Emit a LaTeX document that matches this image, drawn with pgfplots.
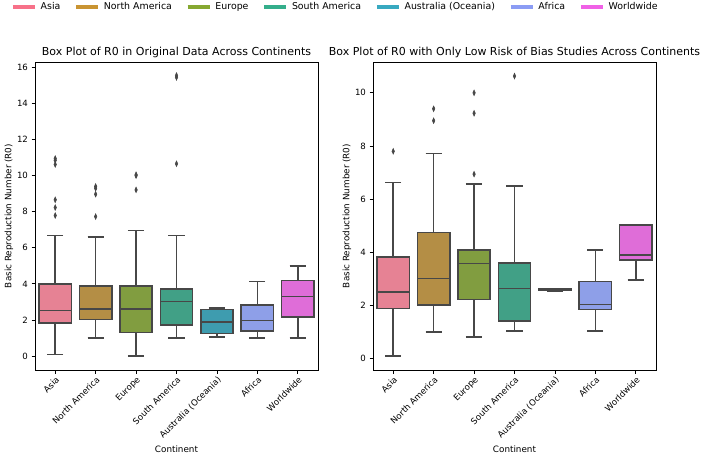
\documentclass[border=0pt]{standalone}
\usepackage{pgfplots}
\pgfplotsset{compat=1.18}
\usepgfplotslibrary{statistics}
\usepackage{fontspec}
\setmainfont{DejaVu Sans}
\definecolor{edgegray}{HTML}{474747}
\definecolor{l1}{HTML}{F77189}
\definecolor{l2}{HTML}{C99432}
\definecolor{l3}{HTML}{86A831}
\definecolor{l4}{HTML}{34AE8B}
\definecolor{l5}{HTML}{38A9C0}
\definecolor{l6}{HTML}{8B9CF4}
\definecolor{l7}{HTML}{F061E6}
\definecolor{f1}{HTML}{E68294}
\definecolor{f2}{HTML}{B48E45}
\definecolor{f3}{HTML}{819D40}
\definecolor{f4}{HTML}{41A086}
\definecolor{f5}{HTML}{3E9CAF}
\definecolor{f6}{HTML}{8E9FE8}
\definecolor{f7}{HTML}{DF6DD8}
\pgfplotsset{
  myaxis/.style={
    scale only axis, width=283pt, height=308pt,
    xmin=-0.5, xmax=6.5, xtick={0,1,2,3,4,5,6},
    xticklabels={Asia,North America,Europe,South America,{Australia (Oceania)},Africa,Worldwide},
    x tick label style={rotate=45, anchor=north east, font=\fontsize{8.6}{10}\selectfont, inner sep=1.5pt},
    y tick label style={font=\fontsize{8.6}{10}\selectfont},
    tick align=outside, tick pos=left, major tick length=3.5pt,
    tick style={black, line width=0.8pt},
    axis line style={line width=0.8pt},
    xlabel={Continent}, ylabel={Basic Reproduction Number (R0)},
    label style={font=\fontsize{8.8}{10}\selectfont},
    ylabel shift=-3pt,
    title style={font=\fontsize{11}{13}\selectfont, yshift=-5pt},
    /pgf/number format/assume math mode=true,
    boxplot/draw direction=y,
    boxplot/box extend=0.8, boxplot/whisker extend=0.4,
  },
  bx/.style={draw=edgegray, line width=1.5pt, solid, fill=#1,
    mark=diamond*, mark size=2.2pt,
    mark options={fill=edgegray, draw=edgegray, line width=0.6pt, solid, xscale=0.75, yscale=1.25},
    forget plot},
}
\begin{document}
\begin{tikzpicture}[x=1pt,y=1pt]
\useasboundingbox (0,0) rectangle (704,461);
\begin{axis}[myaxis, at={(35pt,91pt)}, anchor=south west,
  ymin=-0.775, ymax=16.3, ytick={0,2,4,6,8,10,12,14,16},
  title={Box Plot of R0 in Original Data Across Continents},
  legend columns=7,
  legend style={at={(-0.0848,1.1786)}, anchor=west, draw=none, fill=none,
    font=\fontsize{9.4}{11}\selectfont, inner sep=0pt,
    nodes={inner sep=0pt},
    /tikz/every odd column/.append style={column sep=4pt},
    /tikz/every even column/.append style={column sep=14pt},
    cells={anchor=west}},
  legend image code/.code={\draw[line width=3.5pt] (0pt,0pt) -- (22pt,0pt);},
]
\addlegendimage{l1}
\addlegendimage{l2}
\addlegendimage{l3}
\addlegendimage{l4}
\addlegendimage{l5}
\addlegendimage{l6}
\addlegendimage{l7}
\legend{Asia,North America,Europe,South America,Australia (Oceania),Africa,Worldwide}
\addplot[bx=f1, boxplot prepared={draw position=0, lower whisker=0.09, lower quartile=1.84, median=2.52, upper quartile=3.99, upper whisker=6.67}]
  coordinates {(0,10.95) (0,10.85) (0,10.62) (0,8.66) (0,8.23) (0,7.79)};
\addplot[bx=f2, boxplot prepared={draw position=1, lower whisker=1.0, lower quartile=2.02, median=2.61, upper quartile=3.89, upper whisker=6.60}]
  coordinates {(1,9.40) (1,9.30) (1,8.97) (1,7.73)};
\addplot[bx=f3, boxplot prepared={draw position=2, lower whisker=0.0, lower quartile=1.30, median=2.61, upper quartile=3.89, upper whisker=6.95}]
  coordinates {(2,10.05) (2,10.0) (2,9.21)};
\addplot[bx=f4, boxplot prepared={draw position=3, lower whisker=1.0, lower quartile=1.72, median=3.02, upper quartile=3.71, upper whisker=6.67}]
  coordinates {(3,15.55) (3,15.45) (3,10.66)};
\addplot[bx=f5, boxplot prepared={draw position=4, lower whisker=1.06, lower quartile=1.24, median=1.89, upper quartile=2.58, upper whisker=2.67}]
  coordinates {};
\addplot[bx=f6, boxplot prepared={draw position=5, lower whisker=1.0, lower quartile=1.39, median=1.98, upper quartile=2.82, upper whisker=4.13}]
  coordinates {};
\addplot[bx=f7, boxplot prepared={draw position=6, lower whisker=1.0, lower quartile=2.17, median=3.30, upper quartile=4.19, upper whisker=5.0}]
  coordinates {};
\end{axis}
\begin{axis}[myaxis, at={(373pt,91pt)}, anchor=south west,
  ymin=-0.43, ymax=11.16, ytick={0,2,4,6,8,10},
  title={Box Plot of R0 with Only Low Risk of Bias Studies Across Continents},
]
\addplot[bx=f1, boxplot prepared={draw position=0, lower whisker=0.10, lower quartile=1.88, median=2.51, upper quartile=3.83, upper whisker=6.62}]
  coordinates {(0,7.80)};
\addplot[bx=f2, boxplot prepared={draw position=1, lower whisker=1.0, lower quartile=2.01, median=3.01, upper quartile=4.74, upper whisker=7.72}]
  coordinates {(1,9.40) (1,8.95)};
\addplot[bx=f3, boxplot prepared={draw position=2, lower whisker=0.82, lower quartile=2.23, median=3.58, upper quartile=4.09, upper whisker=6.57}]
  coordinates {(2,10.0) (2,9.23) (2,6.94)};
\addplot[bx=f4, boxplot prepared={draw position=3, lower whisker=1.03, lower quartile=1.41, median=2.63, upper quartile=3.59, upper whisker=6.50}]
  coordinates {(3,10.63)};
\addplot[bx=f5, boxplot prepared={draw position=4, lower whisker=2.55, lower quartile=2.56, median=2.58, upper quartile=2.61, upper whisker=2.63}]
  coordinates {};
\addplot[bx=f6, boxplot prepared={draw position=5, lower whisker=1.03, lower quartile=1.84, median=2.03, upper quartile=2.90, upper whisker=4.09}]
  coordinates {};
\addplot[bx=f7, boxplot prepared={draw position=6, lower whisker=2.95, lower quartile=3.70, median=3.90, upper quartile=5.02, upper whisker=5.02}]
  coordinates {};
\end{axis}
\end{tikzpicture}
\end{document}
